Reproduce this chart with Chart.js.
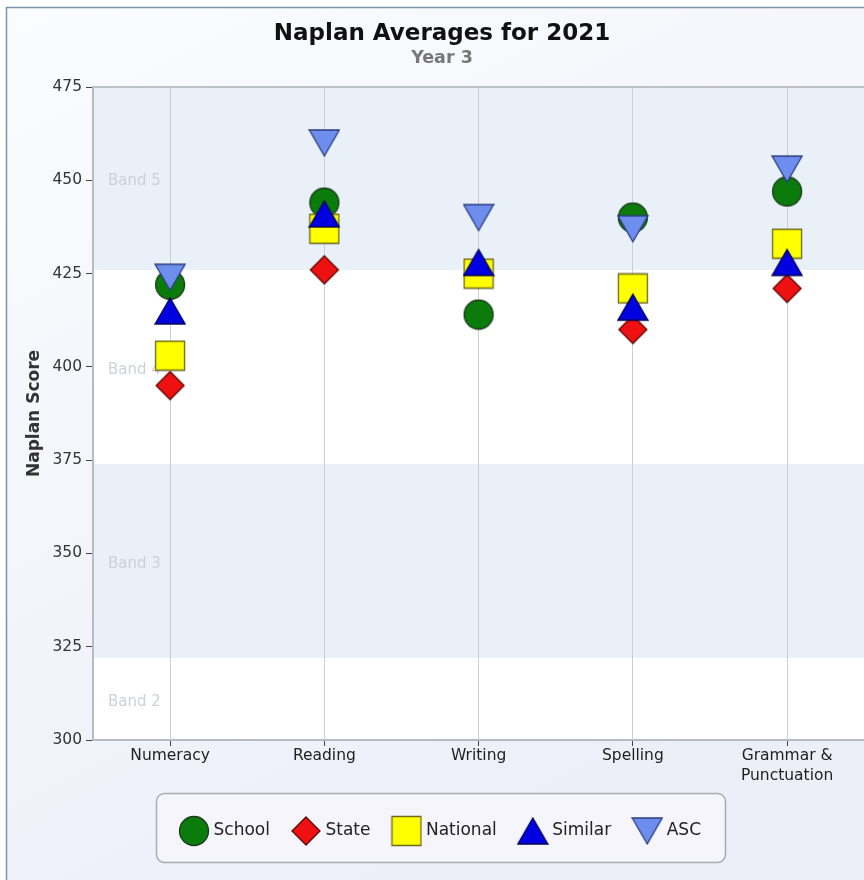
<!DOCTYPE html>
<html>
<head>
<meta charset="utf-8">
<script src="https://cdn.jsdelivr.net/npm/chart.js@4.4.0/dist/chart.umd.min.js"></script>
<style>
  html, body { margin: 0; padding: 0; background: #ffffff; overflow: hidden; width: 864px; height: 880px; }
  #wrap { position: relative; width: 884px; height: 880px; }
  canvas { display: block; }
</style>
</head>
<body>
<div id="wrap"><canvas id="chart" width="884" height="880"></canvas></div>
<script>
// ---- Data ----
const categories = ['Numeracy', 'Reading', 'Writing', 'Spelling', ['Grammar &', 'Punctuation']];
const seriesNames = ['School', 'State', 'National', 'Similar', 'ASC'];
const schoolScores   = [422, 444, 414, 440, 447];
const stateScores    = [395, 426, 425, 410, 421];
const nationalScores = [403, 437, 425, 421, 433];
const similarScores  = [415, 441, 428, 416, 428];
const ascScores      = [424, 460, 440, 437, 453];
const yTickMin = 300, yTickMax = 475, yTickStep = 25;
const bandEdges = [300, 322, 374, 426, 475];
const bandNames = ['Band 2', 'Band 3', 'Band 4', 'Band 5'];

const FONT = "'DejaVu Sans', Verdana, sans-serif";

// ---- Marker images ----
function makeMarker(kind, fill, stroke) {
  const c = document.createElement('canvas');
  c.width = 32; c.height = 32;
  const g = c.getContext('2d');
  g.fillStyle = fill; g.strokeStyle = stroke; g.lineWidth = 1.3; g.lineJoin = 'miter';
  g.beginPath();
  if (kind === 'circle') {
    g.arc(16, 16, 14.5, 0, Math.PI * 2);
  } else if (kind === 'diamond') {
    g.moveTo(16, 2); g.lineTo(30, 16); g.lineTo(16, 30); g.lineTo(2, 16); g.closePath();
  } else if (kind === 'square') {
    g.rect(1.5, 1.5, 29, 29);
  } else if (kind === 'up') {
    g.moveTo(16, 3); g.lineTo(31, 29); g.lineTo(1, 29); g.closePath();
  } else if (kind === 'down') {
    g.moveTo(1, 3); g.lineTo(31, 3); g.lineTo(16, 29); g.closePath();
  }
  g.fill(); g.stroke();
  return c;
}
const markers = [
  makeMarker('circle', '#0b7c0b', '#1b3b1b'),
  makeMarker('diamond', '#ee1111', '#5a0808'),
  makeMarker('square', '#ffff00', '#6c6a1c'),
  makeMarker('up', '#0000e0', '#000050'),
  makeMarker('down', '#6d8def', '#2c3b7e')
];
const fills = ['#0b7c0b', '#ee1111', '#ffff00', '#0000e0', '#6d8def'];
const allScores = [schoolScores, stateScores, nationalScores, similarScores, ascScores];

// ---- Decoration plugin ----
const decor = {
  id: 'decor',
  beforeDraw(chart) {
    const { ctx, width, height, chartArea, scales } = chart;
    ctx.save();
    ctx.fillStyle = '#ffffff';
    ctx.fillRect(0, 0, width, height);
    const bg = ctx.createLinearGradient(0, 0, width * 0.5, height);
    bg.addColorStop(0, '#fbfcfe');
    bg.addColorStop(1, '#eeeef9');
    ctx.fillStyle = bg;
    ctx.fillRect(6, 7, width - 12, height);
    ctx.strokeStyle = '#7b95aa';
    ctx.lineWidth = 1.5;
    ctx.strokeRect(6.5, 7.5, width - 13, height + 10);

    // legend frame
    const lg = chart.legend;
    if (lg && lg.legendHitBoxes && lg.legendHitBoxes.length) {
      const hb = lg.legendHitBoxes;
      const l = hb[0].left - 27;
      const r = hb[hb.length - 1].left + hb[hb.length - 1].width + 24;
      const t = lg.top - 4.5;
      const b = lg.bottom + 12.5;
      ctx.beginPath();
      ctx.roundRect(l + 0.5, t + 0.5, r - l, b - t, 8);
      ctx.fillStyle = '#f5f5fb';
      ctx.fill();
      ctx.strokeStyle = '#a9acb4';
      ctx.lineWidth = 1.5;
      ctx.stroke();
    }

    // bands
    const y = scales.y;
    for (let i = 0; i < bandNames.length; i++) {
      const yTop = y.getPixelForValue(Math.min(bandEdges[i + 1], yTickMax));
      const yBot = y.getPixelForValue(bandEdges[i]);
      ctx.fillStyle = (i % 2 === 1) ? '#e9f0f8' : '#ffffff';
      ctx.fillRect(chartArea.left, yTop, chartArea.right - chartArea.left, yBot - yTop);
    }
    ctx.restore();
  },
  beforeDatasetsDraw(chart) {
    const { ctx, chartArea, scales } = chart;
    const y = scales.y;
    ctx.save();
    ctx.font = '15px ' + FONT;
    ctx.fillStyle = '#cdd1d8';
    ctx.textAlign = 'left';
    ctx.textBaseline = 'middle';
    for (let i = 0; i < bandNames.length; i++) {
      const mid = (bandEdges[i] + Math.min(bandEdges[i + 1], yTickMax)) / 2;
      ctx.fillText(bandNames[i], chartArea.left + 15, y.getPixelForValue(mid) + 3);
    }
    // top border of plot
    ctx.strokeStyle = '#bcc1c9';
    ctx.lineWidth = 2;
    ctx.beginPath();
    ctx.moveTo(chartArea.left, chartArea.top);
    ctx.lineTo(chartArea.right, chartArea.top);
    ctx.stroke();
    ctx.restore();
  }
};

const datasets = seriesNames.map((name, i) => ({
  label: name,
  data: allScores[i],
  pointStyle: markers[i],
  pointRadius: 15,
  pointHoverRadius: 15,
  backgroundColor: fills[i],
  borderColor: fills[i],
  showLine: false,
  clip: false,
  order: seriesNames.length - i
}));

new Chart(document.getElementById('chart'), {
  type: 'line',
  data: { labels: categories, datasets },
  options: {
    responsive: false,
    animation: false,
    devicePixelRatio: 1,
    layout: { padding: { left: 0, right: 0, top: 0, bottom: 30.5 } },
    font: { family: FONT },
    plugins: {
      title: {
        display: true, text: 'Naplan Averages for 2021', color: '#111',
        font: { family: FONT, size: 23, weight: 'bold' }, padding: { top: 20, bottom: 0 }
      },
      subtitle: {
        display: true, text: 'Year 3', color: '#777',
        font: { family: FONT, size: 17.5, weight: 'bold' }, padding: { top: 0, bottom: 18.4 }
      },
      legend: {
        position: 'bottom',
        labels: {
          usePointStyle: true, pointStyleWidth: 22, padding: 25, color: '#222',
          font: { family: FONT, size: 17 },
          sort: (a, b) => a.datasetIndex - b.datasetIndex
        }
      },
      tooltip: { enabled: false }
    },
    scales: {
      x: {
        type: 'category', offset: true,
        grid: { offset: false, color: '#cbcfd5', lineWidth: 1, drawTicks: true, tickLength: 6, tickColor: '#444' },
        border: { color: '#b7bcc4', width: 2 },
        ticks: { font: { family: FONT, size: 15.5, lineHeight: 1.28 }, color: '#222', padding: 0, maxRotation: 0, autoSkip: false },
        afterFit: s => { s.height = 57.5; }
      },
      y: {
        min: yTickMin, max: yTickMax,
        ticks: { stepSize: yTickStep, font: { family: FONT, size: 15.5 }, color: '#333', padding: 4 },
        grid: { drawOnChartArea: false, drawTicks: true, tickLength: 7, tickColor: '#444' },
        border: { color: '#b7bcc4', width: 2 },
        title: {
          display: true, text: 'Naplan Score', color: '#333',
          font: { family: FONT, size: 17, weight: 'bold' }, padding: { top: 24.8, bottom: 0 }
        },
        afterFit: s => { s.width = 93; }
      },
      yRight: {
        type: 'linear', position: 'right', display: true,
        grid: { display: false }, border: { display: false },
        ticks: { display: false },
        afterFit: s => { s.width = 19.75; }
      }
    }
  },
  plugins: [decor]
});
</script>
</body>
</html>
